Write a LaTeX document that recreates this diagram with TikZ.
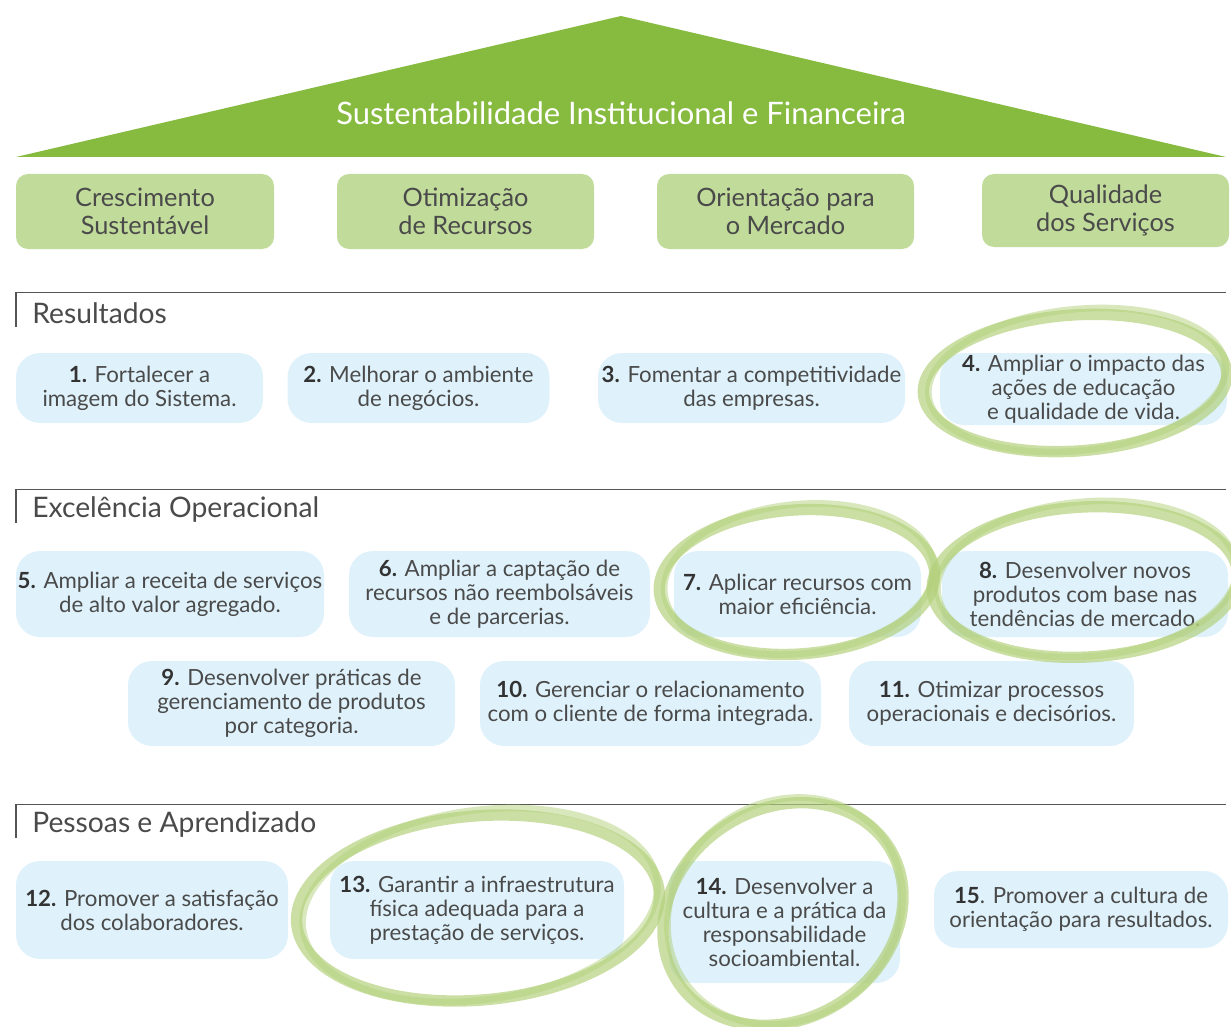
\documentclass[tikz,border=0pt]{standalone}
\usepackage{fontspec}
\setmainfont{Lato}
\definecolor{trigreen}{HTML}{86BB40}
\definecolor{pillarc}{HTML}{C1DB9B}
\definecolor{bluec}{HTML}{DFF2FB}
\definecolor{txt}{HTML}{4A4A4A}
\definecolor{ringc}{HTML}{B2D07A}
\definecolor{rulec}{HTML}{555555}
\newcommand{\nb}[1]{\textbf{\color{black!80}#1}}
\tikzset{
 pillarbox/.style={fill=pillarc, rounded corners=9pt, align=center, text=txt, font=\fontsize{19}{21}\selectfont, inner sep=0pt},
 objbox/.style={fill=bluec, rounded corners=18pt, align=center, text=txt, font=\fontsize{16.7}{18}\selectfont, inner sep=0pt},
 sechead/.style={anchor=west, text=txt, font=\fontsize{21.2}{24}\selectfont, inner sep=0pt},
 secrule/.style={draw=rulec, line width=0.9pt},
 ringstroke/.style={draw=ringc, line width=8.5pt, opacity=0.68},
 ringtail/.style={draw=ringc, line width=5pt, opacity=0.5},
}
\begin{document}
\begin{tikzpicture}[x=0.75pt, y=-0.75pt]
\useasboundingbox (0,0) rectangle (1231,1027);
% roof
\fill[trigreen] (16,157) -- (621,16) -- (1226,157) -- cycle;
\node[text=white, font=\fontsize{23.2}{26}\selectfont, inner sep=0pt] (title) at (621,113) {Sustentabilidade Institucional e Financeira};
% pillars
\node[pillarbox, minimum width=193.5pt, minimum height=56.25pt] (p1) at (145,211.5) {Crescimento\\Sustentável};
\node[pillarbox, minimum width=192.75pt, minimum height=56.25pt] (p2) at (465.5,211.5) {Otimização\\de Recursos};
\node[pillarbox, minimum width=192.75pt, minimum height=56.25pt] (p3) at (785.5,211.5) {Orientação para\\o Mercado};
\node[pillarbox, minimum width=185.25pt, minimum height=54.75pt] (p4) at (1105.5,210.5) {Qualidade\\dos Serviços};
% section Resultados
\draw[secrule] (16,327) -- (16,292.5) -- (1226,292.5);
\node[sechead] (s1) at (32,313) {Resultados};
\node[objbox, minimum width=185.25pt, minimum height=52.5pt] (o1) at (139.5,388) {\nb{1.} Fortalecer a\\imagem do Sistema.};
\node[objbox, minimum width=196.5pt, minimum height=52.5pt] (o2) at (418.5,388) {\nb{2.} Melhorar o ambiente\\de negócios.};
\node[objbox, minimum width=230.25pt, minimum height=52.5pt] (o3) at (751.5,388) {\nb{3.} Fomentar a competitividade\\das empresas.};
\node[objbox, minimum width=215.25pt, minimum height=54pt] (o4) at (1083.5,389) {\nb{4.} Ampliar o impacto das\\ações de educação\\e qualidade de vida.};
% section Excelencia
\draw[secrule] (16,523) -- (16,489.5) -- (1226,489.5);
\node[sechead] (s2) at (32,510) {Excelência Operacional};
\node[objbox, minimum width=231pt, minimum height=64.5pt] (o5) at (170,594) {\nb{5.} Ampliar a receita de serviços\\de alto valor agregado.};
\node[objbox, minimum width=225.75pt, minimum height=64.5pt] (o6) at (499.5,594) {\nb{6.} Ampliar a captação de\\recursos não reembolsáveis\\e de parcerias.};
\node[objbox, minimum width=185.25pt, minimum height=64.5pt] (o7) at (797.5,594) {\nb{7.} Aplicar recursos com\\maior eficiência.};
\node[objbox, minimum width=214.5pt, minimum height=64.5pt] (o8) at (1085,594) {\nb{8.} Desenvolver novos\\produtos com base nas\\tendências de mercado.};
\node[objbox, minimum width=245.25pt, minimum height=63.75pt] (o9) at (291.5,703.5) {\nb{9.} Desenvolver práticas de\\gerenciamento de produtos\\por categoria.};
\node[objbox, minimum width=255.75pt, minimum height=63.75pt] (o10) at (650.5,703.5) {\nb{10.} Gerenciar o relacionamento\\com o cliente de forma integrada.};
\node[objbox, minimum width=213.75pt, minimum height=63.75pt] (o11) at (991.5,703.5) {\nb{11.} Otimizar processos\\operacionais e decisórios.};
% section Pessoas
\draw[secrule] (16,838) -- (16,804.5) -- (1226,804.5);
\node[sechead] (s3) at (32,825) {Pessoas e Aprendizado};
\node[objbox, minimum width=204pt, minimum height=73.5pt] (o12) at (152,910) {\nb{12.} Promover a satisfação\\dos colaboradores.};
\node[objbox, minimum width=220.5pt, minimum height=73.5pt] (o13) at (477,910) {\nb{13.} Garantir a infraestrutura\\física adequada para a\\prestação de serviços.};
\node[objbox, minimum width=173.25pt, minimum height=91.5pt] (o14) at (784.5,922) {\nb{14.} Desenvolver a\\cultura e a prática da\\responsabilidade\\socioambiental.};
\node[objbox, minimum width=220.5pt, minimum height=57.75pt] (o15) at (1081,909.5) {\nb{15}. Promover a cultura de\\orientação para resultados.};
% hand drawn rings
\draw[ringstroke, rotate around={4:(1075,383)}] (1075,383) ellipse [x radius=114pt, y radius=51pt];
\draw[ringtail, rotate around={6:(1077,380)}] (1077,380) ellipse [x radius=112pt, y radius=53pt];
\draw[ringstroke, rotate around={4:(797,582)}] (797,582) ellipse [x radius=103.5pt, y radius=54pt];
\draw[ringtail, rotate around={6:(799,579)}] (799,579) ellipse [x radius=101.5pt, y radius=56pt];
\draw[ringstroke, rotate around={3:(1085,582)}] (1085,582) ellipse [x radius=114.75pt, y radius=56.25pt];
\draw[ringtail, rotate around={5:(1087,579)}] (1087,579) ellipse [x radius=112.5pt, y radius=58pt];
\draw[ringstroke, rotate around={5:(478,908)}] (478,908) ellipse [x radius=136.5pt, y radius=69pt];
\draw[ringtail, rotate around={8:(480,905)}] (480,905) ellipse [x radius=134pt, y radius=71pt];
\draw[ringstroke, rotate around={32:(783,914)}] (783,914) ellipse [x radius=94pt, y radius=79pt];
\draw[ringtail, rotate around={37:(785,911)}] (785,911) ellipse [x radius=92pt, y radius=81pt];
\end{tikzpicture}
\end{document}
